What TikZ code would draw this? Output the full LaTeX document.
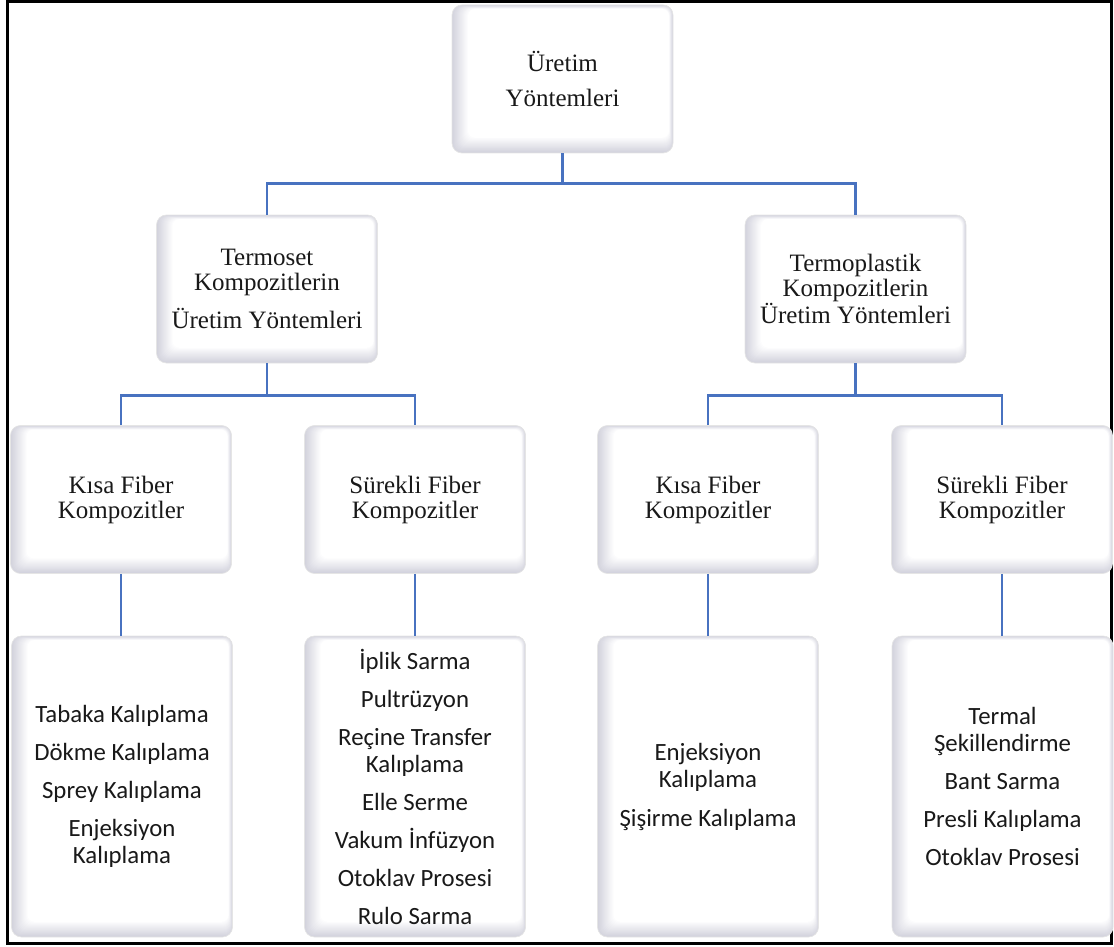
\documentclass[tikz,border=0pt]{standalone}
\usepackage{fontspec}
\setmainfont{Liberation Serif}
\newfontfamily\itemfont{Carlito}
\usetikzlibrary{calc}

\definecolor{connblue}{RGB}{72,114,192}
\definecolor{bevA}{RGB}{210,210,221}
\definecolor{inkgrey}{RGB}{25,25,25}

% bevelled face: a stack of insets, greyish at the rim, white in the middle
\newcommand\bevface{%
  \foreach \k in {1,...,16}{%
    \pgfmathsetmacro\mix{\k*100/16}%
    \pgfmathsetmacro\insL{\k*1.0}%
    \pgfmathsetmacro\insB{\k*0.95}%
    \pgfmathsetmacro\insT{\k*0.25}%
    \fill[white!\mix!bevA, rounded corners=7pt]
      ([xshift=\insL pt, yshift=-\insT pt]path picture bounding box.north west)
      rectangle
      ([xshift=-\insT pt, yshift=\insB pt]path picture bounding box.south east);
  }}

\tikzset{
  bevbox/.style={
    rounded corners=10pt, draw=black!10, line width=0.7pt, fill=bevA,
    inner sep=0pt, align=center, text=inkgrey,
    minimum width=221pt,
    path picture={\bevface}},
  headbox/.style={bevbox, minimum height=148pt,
    font=\fontsize{25}{25}\selectfont},
  listbox/.style={bevbox, minimum height=301pt,
    font=\itemfont\fontsize{24.8}{27}\selectfont},
  conn/.style={draw=connblue, line width=2.6pt},
}

\begin{document}
\begin{tikzpicture}[x=1pt, y=-1pt]
  \useasboundingbox (0,0) rectangle (1114,947);
  \draw[line width=3pt] (7,2) rectangle (1111,943);

  % top level
  \node[headbox] (top) at (562.5,79) {Üretim\\[10pt]Yöntemleri};

  % material families
  \node[headbox] (ts) at (267,289) {Termoset\\Kompozitlerin\\[11pt]Üretim Yöntemleri};
  \node[headbox] (tp) at (855.5,289) {Termoplastik\\Kompozitlerin\\Üretim Yöntemleri};

  % fibre types
  \node[headbox] (k1) at (121,499.5) {Kısa Fiber\\Kompozitler};
  \node[headbox] (s1) at (415,499.5) {Sürekli Fiber\\Kompozitler};
  \node[headbox] (k2) at (708,499.5) {Kısa Fiber\\Kompozitler};
  \node[headbox] (s2) at (1002,499.5) {Sürekli Fiber\\Kompozitler};

  % methods
  \node[listbox] (b1) at (122,786.5)
    {Tabaka Kalıplama\\[11pt]Dökme Kalıplama\\[11pt]Sprey Kalıplama\\[11pt]Enjeksiyon\\Kalıplama};
  \node[listbox] (b2) at (415,786.5)
    {İplik Sarma\\[11pt]Pultrüzyon\\[11pt]Reçine Transfer\\Kalıplama\\[11pt]Elle Serme\\[11pt]Vakum İnfüzyon\\[11pt]Otoklav Prosesi\\[11pt]Rulo Sarma};
  \node[listbox] (b3) at (708,786.5)
    {Enjeksiyon\\Kalıplama\\[12pt]Şişirme Kalıplama};
  \node[listbox] (b4) at (1002.5,786.5)
    {Termal\\Şekillendirme\\[11pt]Bant Sarma\\[11pt]Presli Kalıplama\\[11pt]Otoklav Prosesi};

  % connectors
  \draw[conn] (top.south) -- ++(0,30) coordinate (j0);
  \draw[conn] (ts.north) |- (j0) -| (tp.north);
  \draw[conn] (ts.south) -- ++(0,32) coordinate (j1);
  \draw[conn] (k1.north) |- (j1) -| (s1.north);
  \draw[conn] (tp.south) -- ++(0,32) coordinate (j2);
  \draw[conn] (k2.north) |- (j2) -| (s2.north);
  \draw[conn] (k1.south) -- (k1.south |- b1.north);
  \draw[conn] (s1.south) -- (s1.south |- b2.north);
  \draw[conn] (k2.south) -- (k2.south |- b3.north);
  \draw[conn] (s2.south) -- (s2.south |- b4.north);
\end{tikzpicture}
\end{document}
